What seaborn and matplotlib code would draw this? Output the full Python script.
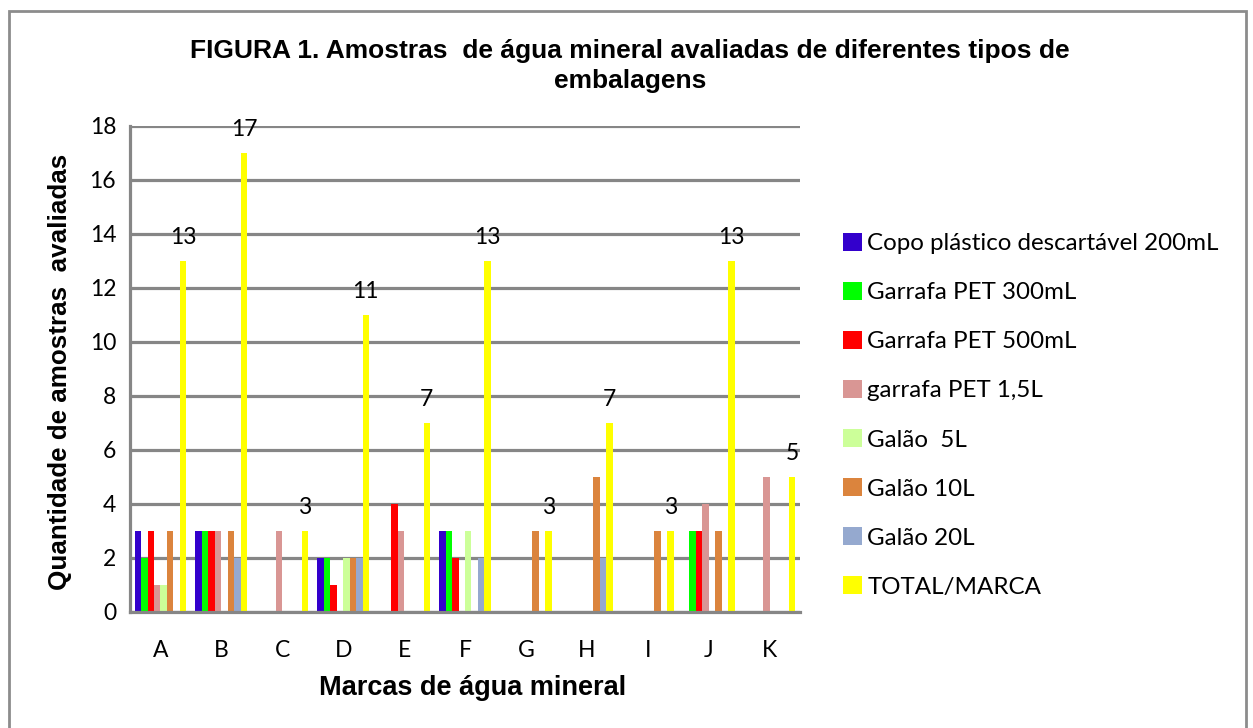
import matplotlib
matplotlib.use("Agg")
import matplotlib.pyplot as plt
from matplotlib.patches import Rectangle
import seaborn as sns
import pandas as pd

marcas = ["A", "B", "C", "D", "E", "F", "G", "H", "I", "J", "K"]
tipos = [
    "Copo plástico descartável 200mL",
    "Garrafa PET 300mL",
    "Garrafa PET 500mL",
    "garrafa PET 1,5L",
    "Galão  5L",
    "Galão 10L",
    "Galão 20L",
    "TOTAL/MARCA",
]
copo_200ml = [3, 3, 0, 2, 0, 3, 0, 0, 0, 0, 0]
pet_300ml = [2, 3, 0, 2, 0, 3, 0, 0, 0, 3, 0]
pet_500ml = [3, 3, 0, 1, 4, 2, 0, 0, 0, 3, 0]
pet_1_5l = [1, 3, 3, 0, 3, 0, 0, 0, 0, 4, 5]
galao_5l = [1, 0, 0, 2, 0, 3, 0, 0, 0, 0, 0]
galao_10l = [3, 3, 0, 2, 0, 0, 3, 5, 3, 3, 0]
galao_20l = [0, 2, 0, 2, 0, 2, 0, 2, 0, 0, 0]
total_marca = [13, 17, 3, 11, 7, 13, 3, 7, 3, 13, 5]

cores = ["#3300CC", "#00FF00", "#FF0000", "#D99694", "#CCFF99",
         "#DB843D", "#95A9CF", "#FFFF00"]

series = [copo_200ml, pet_300ml, pet_500ml, pet_1_5l, galao_5l,
          galao_10l, galao_20l, total_marca]
linhas = []
for tipo, valores in zip(tipos, series):
    for marca, v in zip(marcas, valores):
        linhas.append({"marca": marca, "tipo": tipo, "valor": v})
df = pd.DataFrame(linhas)

sns.set_theme(style="white")
plt.rcParams["font.family"] = ["Lato", "DejaVu Sans"]
plt.rcParams["text.color"] = "black"

W, H = 1253, 728
fig = plt.figure(figsize=(W / 100, H / 100), dpi=100)
fig.patch.set_facecolor("white")
ax = fig.add_axes([130 / W, (H - 612) / H, 670 / W, 486 / H])

grid_c = "#868686"
sns.barplot(data=df, x="marca", y="valor", hue="tipo", hue_order=tipos,
            order=marcas, palette=cores, width=0.85, gap=0, saturation=1,
            linewidth=0, ax=ax, legend=False)

ax.set_xlim(-0.5, len(marcas) - 0.5)
ax.set_ylim(0, 18)
ax.set_yticks(range(0, 19, 2))
ax.yaxis.grid(True, color=grid_c, linewidth=2.3, zorder=0)
ax.set_axisbelow(True)
for s in ["top", "right"]:
    ax.spines[s].set_visible(False)
for s in ["left", "bottom"]:
    ax.spines[s].set_color(grid_c)
    ax.spines[s].set_linewidth(2.3)

ax.set_xticks([i - 0.5 for i in range(len(marcas) + 1)], minor=True)
ax.tick_params(axis="x", which="minor", length=6, width=2.3, color=grid_c,
               direction="out")
ax.tick_params(axis="x", which="major", length=0, pad=20, labelsize=16.5,
               labelcolor="black")
ax.tick_params(axis="y", length=6, width=2.3, color=grid_c, pad=4,
               labelsize=16.5, labelcolor="black")
ax.set_xlabel("")
ax.set_ylabel("")

# value labels on the brand totals
ax.bar_label(ax.containers[-1], labels=[str(v) for v in total_marca],
             padding=9, fontsize=16.5, color="black")

bold = dict(family=["Liberation Sans", "DejaVu Sans"], weight="bold",
            color="black")
fig.text(630 / W, 1 - 66 / H,
         "FIGURA 1. Amostras  de água mineral avaliadas de diferentes tipos de\nembalagens",
         ha="center", va="center", fontsize=19, linespacing=1.33, **bold)
fig.text(60 / W, 1 - 372 / H, "Quantidade de amostras  avaliadas",
         rotation=90, ha="center", va="center", fontsize=18.7, **bold)
fig.text(473 / W, 1 - 688 / H, "Marcas de água mineral",
         ha="center", va="center", fontsize=19.5, **bold)

handles = [Rectangle((0, 0), 1, 1, facecolor=c, edgecolor="none") for c in cores]
fig.legend(handles, tipos, loc="upper left",
           bbox_to_anchor=(843 / W, 1 - 233 / H), frameon=False,
           fontsize=17.4, handlelength=0.8, handleheight=0.75,
           handletextpad=0.2, labelspacing=1.15, borderpad=0,
           borderaxespad=0, labelcolor="black")

# outer chart frame
fig.patches.append(Rectangle((9 / W, -0.01), (1246 - 9) / W, 1.01 - 11 / H,
                             transform=fig.transFigure, fill=False,
                             edgecolor="#8c8c8c", linewidth=2))

fig.savefig("out.png", dpi=100, facecolor="white")
